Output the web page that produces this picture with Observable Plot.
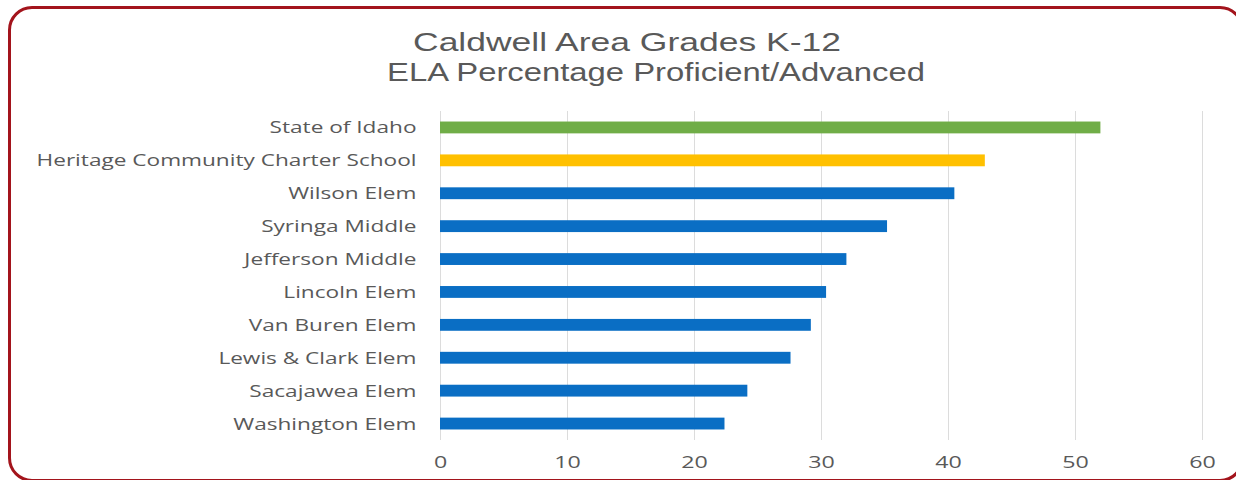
<!DOCTYPE html>
<html><head><meta charset="utf-8">
<script src="https://cdn.jsdelivr.net/npm/d3@7"></script>
<script src="https://cdn.jsdelivr.net/npm/@observablehq/plot@0.6"></script>
<style>
html,body{margin:0;padding:0;background:#fff;}
#wrap{position:relative;width:1236px;height:480px;overflow:hidden;background:#fff;font-family:"Open Sans",sans-serif;}
#frame{position:absolute;left:8px;top:6px;width:1236px;height:476px;border:3px solid #a3141c;border-radius:24px;box-sizing:border-box;}
.tl{position:absolute;white-space:nowrap;color:#595959;font-family:"Liberation Sans",sans-serif;font-size:25px;line-height:28px;transform-origin:0 50%;}
#t1{left:413px;top:28px;}
#t2{left:387px;top:58px;}
#chart{position:absolute;left:0;top:0;}
#chart svg text{font-family:"Open Sans",sans-serif;}
</style></head>
<body><div id="wrap"><div id="frame"></div><div id="chart"></div>
<div class="tl" id="t1">Caldwell Area Grades K-12</div>
<div class="tl" id="t2">ELA Percentage Proficient/Advanced</div></div>
<script>
const categories = ["State of Idaho","Heritage Community Charter School","Wilson Elem","Syringa Middle","Jefferson Middle","Lincoln Elem","Van Buren Elem","Lewis & Clark Elem","Sacajawea Elem","Washington Elem"];
const values = [52.0, 42.9, 40.5, 35.2, 32.0, 30.4, 29.2, 27.6, 24.2, 22.4];
const groups = ["State","Charter","District","District","District","District","District","District","District","District"];
const groupNames = ["State","Charter","District"];
const groupColors = ["#70ad47","#ffc000","#0a6ec4"];
const xTicks = [0,10,20,30,40,50,60];

const data = categories.map((c,i)=>({name:c, value:values[i], group:groups[i]}));

const plot = Plot.plot({
  width: 1236,
  height: 480,
  marginTop: 111,
  marginBottom: 40,
  marginLeft: 440,
  marginRight: 34,
  style: {background:"transparent", color:"#595959", fontSize:"16px"},
  x: {domain:[0,60], ticks:xTicks, label:null},
  y: {domain:categories, label:null, paddingInner:0.64, paddingOuter:0.32, round:false},
  color: {domain:groupNames, range:groupColors},
  marks: [
    Plot.gridX(xTicks, {stroke:"#dcdcdc", strokeOpacity:1, strokeWidth:1}),
    Plot.barX(data, {y:"name", x:"value", fill:"group"}),
    Plot.axisX({ticks:xTicks, tickSize:0, tickPadding:16, fontSize:16, label:null, fill:"#595959", tickFormat:d=>String(d)}),
    Plot.axisY({tickSize:0, tickPadding:24, fontSize:17, label:null, fill:"#595959"})
  ]
});
document.getElementById("chart").appendChild(plot);

// the reference's lettering is horizontally stretched; widen glyphs to match
function stretch(sel, k){
  plot.querySelectorAll(sel).forEach(t=>{
    const w = t.getComputedTextLength();
    t.setAttribute("lengthAdjust","spacingAndGlyphs");
    t.setAttribute("textLength", w*k);
  });
}
stretch('g[aria-label="y-axis tick label"] text', 1.33);
stretch('g[aria-label="x-axis tick label"] text', 1.45);
function stretchTitle(id, target){
  const el = document.getElementById(id);
  const w = el.getBoundingClientRect().width;
  el.style.transform = `scaleX(${target/w})`;
}
stretchTitle("t1", 428);
stretchTitle("t2", 538);
</script></body></html>
